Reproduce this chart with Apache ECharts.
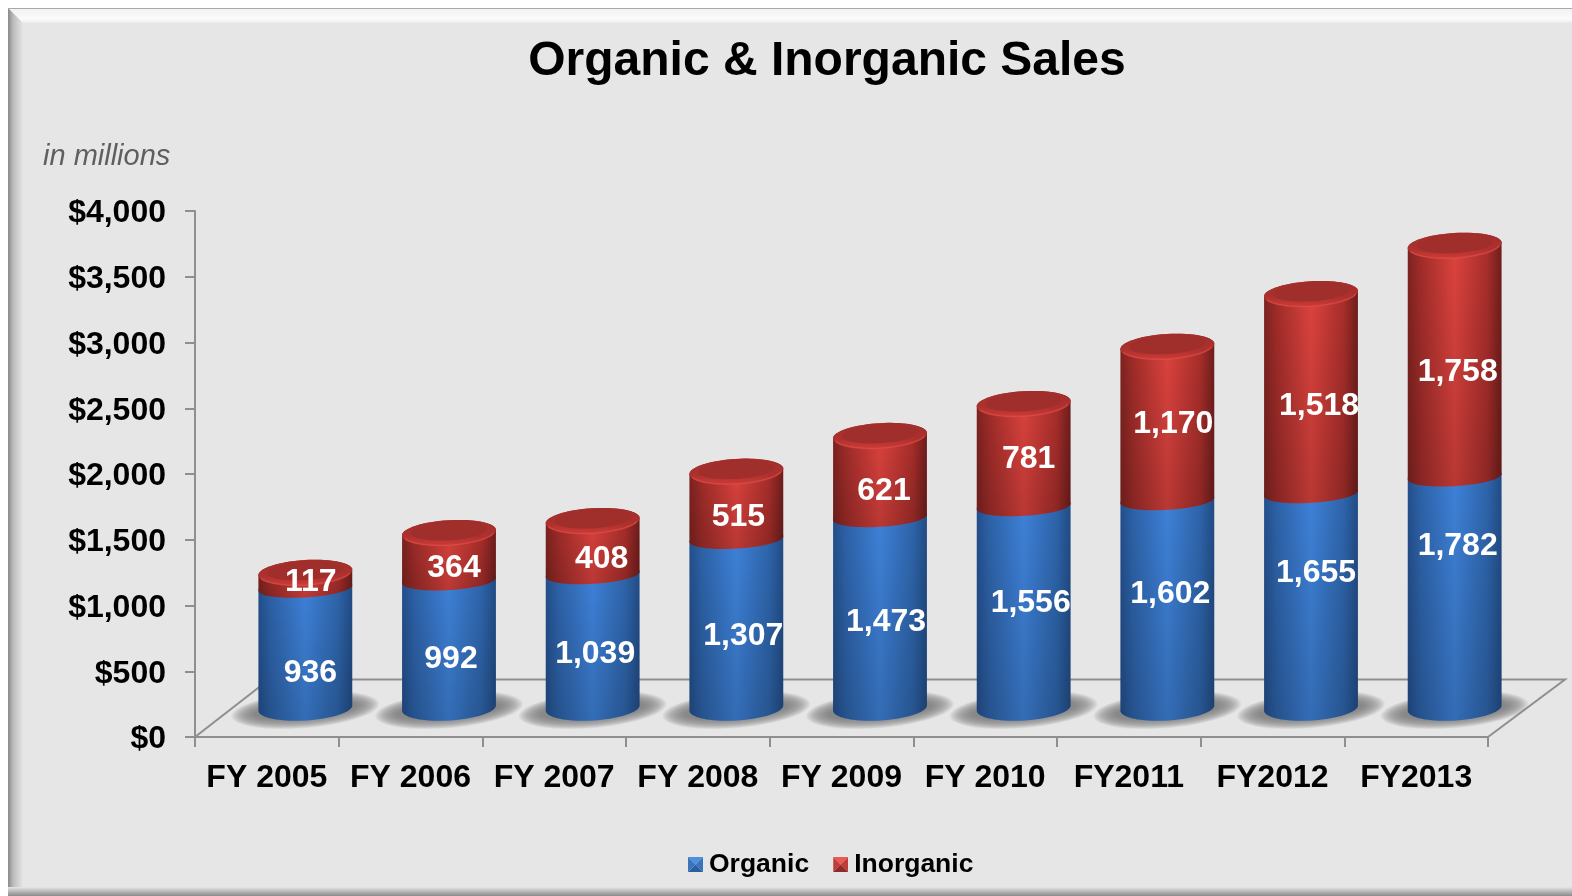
<!DOCTYPE html>
<html>
<head>
<meta charset="utf-8">
<title>Organic & Inorganic Sales</title>
<style>
html, body { margin: 0; padding: 0; background: #fff; }
#chart { width: 1572px; height: 896px; }
</style>
<script src="https://cdn.jsdelivr.net/npm/echarts@6/dist/echarts.min.js"></script>
</head>
<body>
<div id="chart"></div>
<script>
// data
var categories = ['FY 2005', 'FY 2006', 'FY 2007', 'FY 2008', 'FY 2009', 'FY 2010', 'FY2011', 'FY2012', 'FY2013'];
var organic = [936, 992, 1039, 1307, 1473, 1556, 1602, 1655, 1782];
var inorganic = [117, 364, 408, 515, 621, 781, 1170, 1518, 1758];
var yTicks = [0, 500, 1000, 1500, 2000, 2500, 3000, 3500, 4000];

// hand placed labels in the original, nudges from the middle of each segment
var organicNudgeX = [5, 2, 2.5, 7, 6, 7, 3, 5, 3];
var organicNudgeY = [23, 13, 11, 10.5, 7, -6, -12, -30, -49];
var inorganicNudgeX = [5.5, 5, 9, 2, 4, 5, 6, 8, 3];
var inorganicNudgeY = [1, 10, 10, 10, 13, 2, -1, 10, 9];

var FONT = '"Liberation Sans", Arial, sans-serif';
var TILT = -3.5 * Math.PI / 180;
var RX = 47, RY = 12.5, SEAM_RY = 9.5;

var myChart = echarts.init(document.getElementById('chart'));

function grad(x2, y2, stops) {
    return new echarts.graphic.LinearGradient(0, 0, x2, y2, stops.map(function (c) {
        return { offset: c[0], color: c[1] };
    }));
}

// points along a tilted ellipse, t in radians, front of the ellipse is 0..PI
function arc(cx, cy, rx, ry, phi, from, to, n) {
    var pts = [];
    for (var k = 0; k <= n; k++) {
        var t = from + (to - from) * k / n;
        pts.push([
            cx + rx * Math.cos(t) * Math.cos(phi) - ry * Math.sin(t) * Math.sin(phi),
            cy + rx * Math.cos(t) * Math.sin(phi) + ry * Math.sin(t) * Math.cos(phi)
        ]);
    }
    return pts;
}

// the 3d look moves the cylinders off the category centre and up from the axis
function project(api, i, v) {
    var p = api.coord([i, v]);
    return [p[0] + 38.5, p[1] - (v === 0 ? 29 : 26)];
}

var blueSide = grad(1, 0, [[0, '#234f8c'], [0.13, '#2d62a8'], [0.5, '#3e82da'], [0.85, '#2e65ab'], [1, '#224c86']]);
var redSide = grad(1, 0, [[0, '#7e2320'], [0.13, '#a02c29'], [0.5, '#de433e'], [0.85, '#a92e2b'], [1, '#6f1e1c']]);
var sideShade = grad(0, 1, [[0, 'rgba(0,0,0,0)'], [1, 'rgba(0,0,0,0.17)']]);

function segment(api, opts) {
    var i = api.value(0), low = api.value(1), high = api.value(2);
    var b = project(api, i, low), t = project(api, i, high);
    var mid = (low + high) / 2;
    var m = api.coord([i, mid]);
    var body = arc(b[0], b[1], RX, low === 0 ? RY : SEAM_RY, TILT, 0, Math.PI, 36)
        .concat(arc(t[0], t[1], RX, RY, TILT, Math.PI, 2 * Math.PI, 36));
    var kids = [];
    if (opts.shadow) {
        // soft shadow on the floor, stacked see-through ellipses
        for (var k = 0; k < 15; k++) {
            kids.push({
                type: 'polygon',
                shape: { points: arc(b[0], b[1] + 2, 74 - k * 1.6, 18 - k * 0.7, -5 * Math.PI / 180, 0, 2 * Math.PI, 48) },
                style: { fill: 'rgba(120,120,120,0.1)' }
            });
        }
    }
    kids.push({ type: 'polygon', shape: { points: body }, style: { fill: opts.side } });
    kids.push({ type: 'polygon', shape: { points: body }, style: { fill: sideShade } });
    if (opts.cap) {
        kids.push({
            type: 'polygon',
            shape: { points: arc(t[0], t[1], RX, RY, TILT, 0, 2 * Math.PI, 60) },
            style: { fill: grad(0, 1, [[0, '#a02e2b'], [0.65, '#ae312e'], [1, '#cc3b37']]) }
        });
        kids.push({
            type: 'polygon',
            shape: { points: arc(t[0], t[1] - 1.5, RX - 9, RY - 3.5, TILT, 0, 2 * Math.PI, 60) },
            style: { fill: '#a02e2b' }
        });
        kids.push({
            type: 'polyline',
            shape: { points: arc(t[0], t[1], RX - 1, RY, TILT, 0.25, Math.PI - 0.25, 30) },
            style: { fill: 'none', stroke: 'rgba(235,85,80,0.5)', lineWidth: 1.5 }
        });
    }
    kids.push({
        type: 'text',
        z2: 10,
        style: {
            text: echarts.format.addCommas(high - low),
            x: m[0] + 38.5 + opts.nudgeX[i],
            y: m[1] - 26 + 0.00096 * mid + opts.nudgeY[i],
            textAlign: 'center',
            textVerticalAlign: 'middle',
            fill: '#fff',
            font: 'bold 32px ' + FONT
        }
    });
    return { type: 'group', children: kids };
}

function renderFloor(params) {
    var g = params.coordSys;
    var bottom = g.y + g.height, back = bottom - 57.5, right = g.x + g.width;
    return {
        type: 'polyline',
        shape: { points: [[g.x, bottom], [g.x + 74, back], [right + 77, back], [right, bottom]] },
        style: { fill: 'none', stroke: '#8f8f8f', lineWidth: 2 }
    };
}

function legendIcon(top, side, low) {
    var svg = '<svg xmlns="http://www.w3.org/2000/svg" width="15" height="15">'
        + '<polygon points="0,0 15,0 7.5,7.5" fill="' + top + '"/>'
        + '<polygon points="0,0 0,15 7.5,7.5" fill="' + side + '"/>'
        + '<polygon points="15,0 15,15 7.5,7.5" fill="' + side + '"/>'
        + '<polygon points="0,15 15,15 7.5,7.5" fill="' + low + '"/></svg>';
    return 'image://data:image/svg+xml;charset=utf-8,' + encodeURIComponent(svg);
}

var option = {
    animation: false,
    title: [{
        text: 'Organic & Inorganic Sales',
        left: 822,
        top: 33,
        textAlign: 'center',
        textStyle: { fontFamily: FONT, fontWeight: 'bold', fontSize: 48, color: '#000' }
    }, {
        text: 'in millions',
        left: 38,
        top: 137,
        textStyle: { fontFamily: FONT, fontStyle: 'italic', fontWeight: 'normal', fontSize: 29, color: '#5f5f5f' }
    }],
    legend: {
        left: 683,
        top: 846,
        itemWidth: 15,
        itemHeight: 15,
        itemGap: 24,
        textStyle: { fontFamily: FONT, fontWeight: 'bold', fontSize: 26.5, color: '#000', padding: [0, 0, 0, 1] },
        data: [
            { name: 'Organic', icon: legendIcon('#4d90dc', '#3a74bd', '#2b5e9e') },
            { name: 'Inorganic', icon: legendIcon('#e85a55', '#c23d3a', '#8f2b28') }
        ]
    },
    grid: { left: 195, right: 84, top: 211, height: 526 },
    xAxis: {
        type: 'category',
        data: categories,
        axisLine: { lineStyle: { color: '#8f8f8f', width: 2 } },
        axisTick: { show: true, length: 10, lineStyle: { color: '#8f8f8f', width: 2 } },
        axisLabel: { interval: 0, margin: 25, color: '#000', fontFamily: FONT, fontWeight: 'bold', fontSize: 32 }
    },
    yAxis: {
        type: 'value',
        min: yTicks[0],
        max: yTicks[yTicks.length - 1],
        interval: yTicks[1] - yTicks[0],
        splitLine: { show: false },
        axisLine: { show: true, lineStyle: { color: '#8f8f8f', width: 2 } },
        axisTick: { show: true, length: 10, lineStyle: { color: '#8f8f8f', width: 2 } },
        axisLabel: {
            margin: 29,
            color: '#000',
            fontFamily: FONT,
            fontWeight: 'bold',
            fontSize: 32,
            rich: { money: { fontFamily: FONT, fontWeight: 'bold', fontSize: 32, color: '#000', padding: [5, 0, 0, 0] } },
            formatter: function (v) { return '{money|$' + echarts.format.addCommas(v) + '}'; }
        }
    },
    graphic: [
        { type: 'rect', z: -10, silent: true, shape: { x: 8, y: 8, width: 1564, height: 888 }, style: { fill: '#e6e6e6' } },
        { type: 'polygon', z: -9, silent: true, shape: { points: [[8, 8], [1572, 8], [1572, 23], [23, 23]] },
          style: { fill: grad(0, 1, [[0, '#f2f2f2'], [0.75, '#fbfbfb'], [1, '#ececec']]) } },
        { type: 'polygon', z: -9, silent: true, shape: { points: [[8, 8], [23, 23], [23, 896], [8, 896]] },
          style: { fill: grad(1, 0, [[0, '#8a8a8a'], [0.35, '#bcbcbc'], [1, '#e6e6e6']]) } },
        { type: 'rect', z: -8, silent: true, shape: { x: 8, y: 887, width: 1564, height: 9 },
          style: { fill: grad(0, 1, [[0, '#e6e6e6'], [1, '#8a8a8a']]) } },
        { type: 'rect', z: -7, silent: true, shape: { x: 8, y: 8, width: 1564, height: 1 }, style: { fill: '#a9a9a9' } }
    ],
    series: [{
        type: 'custom',
        name: 'floor',
        silent: true,
        z: 1,
        renderItem: renderFloor,
        data: [[0, 0]]
    }, {
        type: 'custom',
        name: 'Organic',
        z: 3,
        silent: true,
        encode: { x: 0, y: [1, 2] },
        renderItem: function (params, api) {
            return segment(api, { side: blueSide, shadow: true, nudgeX: organicNudgeX, nudgeY: organicNudgeY });
        },
        data: categories.map(function (c, i) { return [i, 0, organic[i]]; })
    }, {
        type: 'custom',
        name: 'Inorganic',
        z: 4,
        silent: true,
        encode: { x: 0, y: [1, 2] },
        renderItem: function (params, api) {
            return segment(api, { side: redSide, cap: true, nudgeX: inorganicNudgeX, nudgeY: inorganicNudgeY });
        },
        data: categories.map(function (c, i) { return [i, organic[i], organic[i] + inorganic[i]]; })
    }]
};

myChart.setOption(option);
</script>
</body>
</html>
